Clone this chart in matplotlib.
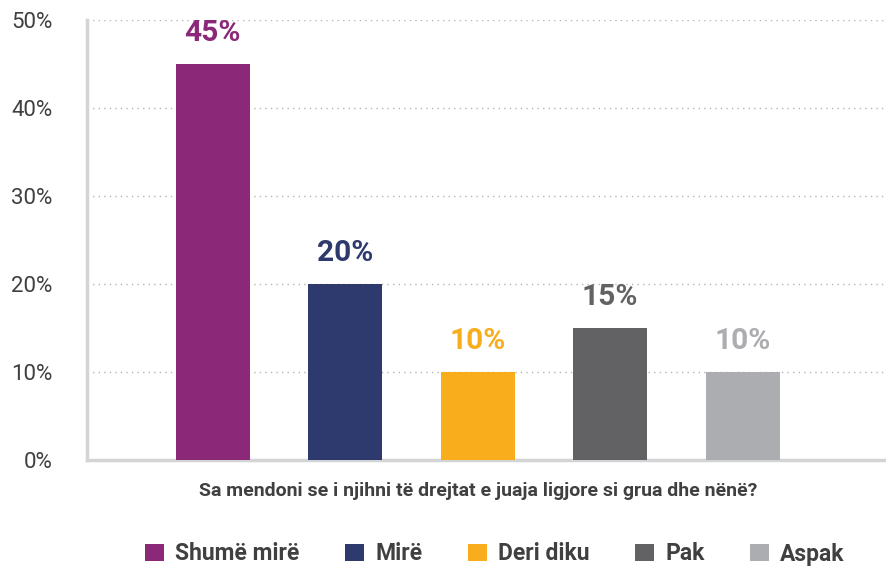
import matplotlib.pyplot as plt
from matplotlib.patches import Patch
from matplotlib.ticker import PercentFormatter

categories = ["Shumë mirë", "Mirë", "Deri diku", "Pak", "Aspak"]
values = [45, 20, 10, 15, 10]
colors = ["#8B2878", "#2E3A6E", "#F8AE1C", "#626264", "#ACADB0"]
yticks = [0, 10, 20, 30, 40, 50]
question = "Sa mendoni se i njihni të drejtat e juaja ligjore si grua dhe nënë?"

plt.rcParams['font.family'] = ['Roboto', 'DejaVu Sans']

W, H = 887, 568
fig = plt.figure(figsize=(W / 100, H / 100), dpi=100)
ax = fig.add_axes([87 / W, 1 - 460 / H, 800 / W, 440 / H])

x = list(range(len(categories)))
ax.bar(x, values, width=0.56, color=colors, zorder=3)

for xi, v, c in zip(x, values, colors):
    ax.annotate(f"{v}%", (xi, v), xytext=(0, 12), textcoords="offset points",
                ha="center", va="bottom", fontsize=21.5, fontweight="bold", color=c)

ax.set_xlim(-0.95, 5.09)
ax.set_ylim(0, 50)
ax.set_yticks(yticks)
ax.yaxis.set_major_formatter(PercentFormatter(decimals=0))
ax.set_xticks([])
ax.tick_params(axis="y", length=0, pad=25, labelsize=16, labelcolor="#404040")
ax.grid(axis="y", linestyle=(0, (1, 3)), color="#b5b5b5", linewidth=1, zorder=0)

for s in ["top", "right"]:
    ax.spines[s].set_visible(False)
for s in ["left", "bottom"]:
    ax.spines[s].set_color("#d3d4d6")
    ax.spines[s].set_linewidth(2.5)

ax.set_xlabel(question, fontsize=14, fontweight="bold", color="#404040")
ax.xaxis.set_label_coords((478 - 87) / 800, -0.05)

handles = [Patch(facecolor=c, edgecolor="none") for c in colors]
fig.legend(handles, categories, loc="center", bbox_to_anchor=(495 / W, 1 - 554 / H),
           ncol=5, frameon=False, handlelength=0.8, handleheight=0.8,
           handletextpad=0.5, columnspacing=2.0, labelcolor="#404040",
           prop={"weight": "bold", "size": 16.5})

fig.savefig("out.png", dpi=100)
